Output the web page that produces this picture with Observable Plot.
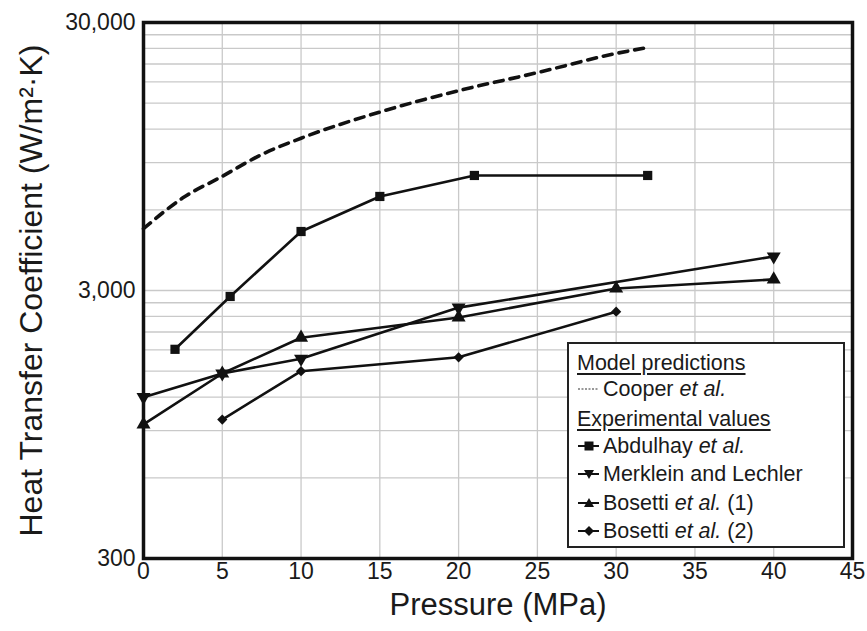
<!DOCTYPE html>
<html>
<head>
<meta charset="utf-8">
<script src="https://cdn.jsdelivr.net/npm/d3@7"></script>
<script src="https://cdn.jsdelivr.net/npm/@observablehq/plot@0.6"></script>
<style>
  html, body { margin: 0; padding: 0; background: #fff; }
  #wrap { position: relative; width: 867px; height: 631px; font-family: "Liberation Sans", Arial, sans-serif; color: #1a1a1a; }
  #legend { position: absolute; left: 567px; top: 342px; width: 274px; height: 202px; background: #fff; border: 2px solid #222; box-sizing: content-box; font-size: 21.5px; }
  #legend .row { position: absolute; left: 8px; height: 28px; line-height: 28px; white-space: nowrap; display: flex; align-items: center; }
  #legend .head { text-decoration: underline; text-underline-offset: 3px; }
  #legend svg { margin-right: 2px; }
</style>
</head>
<body>
<div id="wrap">
  <div id="chart"></div>
  <div id="legend"></div>
</div>
<script>
// ---- data ----
const cooperP   = [0, 2.5, 5, 7.5, 10, 15, 20, 25, 30, 32];
const cooperH   = [5100, 6650, 8000, 9650, 11100, 13900, 16700, 19500, 23000, 24200];

const abdulhayP = [2, 5.5, 10, 15, 21, 32];
const abdulhayH = [1810, 2850, 4980, 6730, 8060, 8060];

const merkleinP = [0, 5, 10, 20, 40];
const merkleinH = [1200, 1470, 1670, 2590, 4020];

const bosetti1P = [0, 5, 10, 20, 30, 40];
const bosetti1H = [950, 1470, 2000, 2380, 3050, 3300];

const bosetti2P = [5, 10, 20, 30];
const bosetti2H = [990, 1500, 1690, 2500];

const xTicks = [0, 5, 10, 15, 20, 25, 30, 35, 40, 45];
const xGrid  = [5, 10, 15, 20, 25, 30, 35, 40];
const yTicks = [300, 3000, 30000];
const yGrid  = [600, 900, 1200, 1500, 1800, 2100, 2400, 2700, 3000,
                6000, 9000, 12000, 15000, 18000, 21000, 24000, 27000];

const xLabel = "Pressure (MPa)";
const yLabel = "Heat Transfer Coefficient (W/m²·K)";

const legendHeads = ["Model predictions", "Experimental values"];
// -------------------------------------

const toRows = (P, H) => P.map((p, i) => ({p, h: H[i]}));
const cooper = toRows(cooperP, cooperH);
const abdulhay = toRows(abdulhayP, abdulhayH);
const merklein = toRows(merkleinP, merkleinH);
const bosetti1 = toRows(bosetti1P, bosetti1H);
const bosetti2 = toRows(bosetti2P, bosetti2H);

const lineOpts = {x: "p", y: "h", stroke: "#111", strokeWidth: 2.6};

const chart = Plot.plot({
  width: 867,
  height: 631,
  marginLeft: 143,
  marginRight: 15,
  marginTop: 22,
  marginBottom: 73,
  style: {fontFamily: "Liberation Sans, Arial, sans-serif", color: "#1a1a1a", background: "#fff"},
  x: {domain: [0, 45]},
  y: {type: "log", domain: [300, 30000]},
  marks: [
    Plot.gridX(xGrid, {stroke: "#c9c9c9", strokeOpacity: 1, strokeWidth: 1.3}),
    Plot.gridY(yGrid, {stroke: "#c9c9c9", strokeOpacity: 1, strokeWidth: 1.3}),
    Plot.line(cooper, {x: "p", y: "h", stroke: "#111", strokeWidth: 3.6, strokeDasharray: "9,7", curve: "monotone-x"}),
    Plot.line(abdulhay, lineOpts),
    Plot.line(merklein, lineOpts),
    Plot.line(bosetti1, lineOpts),
    Plot.line(bosetti2, lineOpts),
    Plot.dot(abdulhay, {x: "p", y: "h", symbol: "square", r: 5.2, fill: "#111"}),
    Plot.dot(merklein, {x: "p", y: "h", symbol: "triangle", r: 5.2, fill: "#111", rotate: 180}),
    Plot.dot(bosetti1, {x: "p", y: "h", symbol: "triangle", r: 5.2, fill: "#111"}),
    Plot.dot(bosetti2, {x: "p", y: "h", symbol: "diamond2", r: 4.6, fill: "#111"}),
    Plot.frame({stroke: "#111", strokeWidth: 3.5}),
    Plot.axisX(xTicks, {tickSize: 0, tickPadding: 4, fontSize: 23, label: null}),
    Plot.axisY(yTicks, {tickSize: 0, tickPadding: 8, fontSize: 23, label: null, tickFormat: ","}),
    Plot.text([xLabel], {frameAnchor: "bottom", dy: 56, fontSize: 31, fill: "#1a1a1a"}),
    Plot.text([yLabel], {frameAnchor: "left", dx: -112, rotate: -90, textAnchor: "middle", fontSize: 32, fill: "#1a1a1a"})
  ]
});
document.getElementById("chart").appendChild(chart);

// legend
const legend = document.getElementById("legend");
function sample(kind) {
  const w = 24, h = 20, cy = 10;
  let s = `<svg width="${w}" height="${h}" viewBox="0 0 ${w} ${h}">`;
  if (kind === "dash") {
    s += `<line x1="1" x2="${w - 2}" y1="${cy}" y2="${cy}" stroke="#777" stroke-width="1.5" stroke-dasharray="2,1.5"/>`;
  } else {
    s += `<line x1="1" x2="${w - 2}" y1="${cy}" y2="${cy}" stroke="#111" stroke-width="2"/>`;
    const c = w / 2;
    if (kind === "square") s += `<rect x="${c - 4.5}" y="${cy - 4.5}" width="9" height="9" fill="#111"/>`;
    if (kind === "tdown") s += `<path d="M${c - 5},${cy - 4} L${c + 5},${cy - 4} L${c},${cy + 5} Z" fill="#111"/>`;
    if (kind === "tup") s += `<path d="M${c - 5},${cy + 4} L${c + 5},${cy + 4} L${c},${cy - 5} Z" fill="#111"/>`;
    if (kind === "diamond") s += `<path d="M${c},${cy - 5} L${c + 5},${cy} L${c},${cy + 5} L${c - 5},${cy} Z" fill="#111"/>`;
  }
  return s + `</svg>`;
}
const rows = [
  {top: 5,   html: `<span class="head">${legendHeads[0]}</span>`},
  {top: 31,  html: sample("dash") + `Cooper&nbsp;<i>et al.</i>`},
  {top: 61,  html: `<span class="head">${legendHeads[1]}</span>`},
  {top: 88,  html: sample("square") + `Abdulhay&nbsp;<i>et al.</i>`},
  {top: 116, html: sample("tdown") + `Merklein and Lechler`},
  {top: 145, html: sample("tup") + `Bosetti&nbsp;<i>et al.</i>&nbsp;(1)`},
  {top: 173, html: sample("diamond") + `Bosetti&nbsp;<i>et al.</i>&nbsp;(2)`}
];
for (const r of rows) {
  const d = document.createElement("div");
  d.className = "row";
  d.style.top = r.top + "px";
  d.innerHTML = r.html;
  legend.appendChild(d);
}
</script>
</body>
</html>
